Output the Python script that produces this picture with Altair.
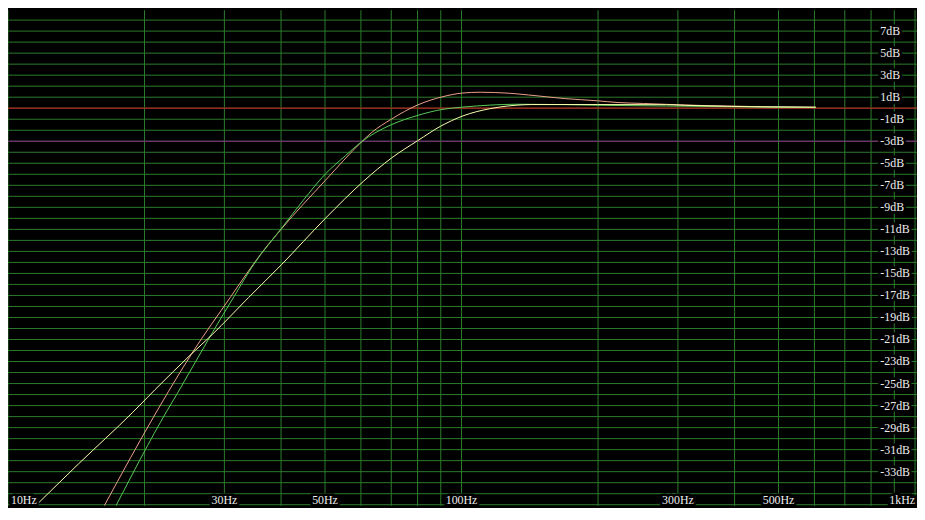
import altair as alt
import pandas as pd

W, H = 917, 500

GRID = "#2c7c2c"
RED = "#b01e1e"
PURPLE = "#8a248a"
TEXT = "#eeeeee"
FONT = "Liberation Serif"

# grid / tick data
grid_freqs = [10, 20, 30, 40, 50, 60, 70, 80, 90,
              100, 200, 300, 400, 500, 600, 700, 800, 900, 1000]
grid_db = list(range(-36, 9))
ylabel_db = list(range(7, -34, -2))
ylabel_text = [f"{d}dB" for d in ylabel_db]
xlabel_freqs = [30, 50, 100, 300, 500]
xlabel_text = ["30Hz", "50Hz", "100Hz", "300Hz", "500Hz"]
first_label_f, first_label = [10], ["10Hz"]
last_label_f, last_label = [1000], ["1kHz"]

# curves (frequency in Hz, level in dB)
pink_f = [16.3, 21.3, 22.6, 25.4, 31.0, 33.1, 36.0, 40.0, 50.1, 60.4, 63.4,
          70.0, 80.1, 91.0, 100.7, 110, 127.4, 140.6, 169.3, 199.6, 220.3, 252,
          283, 349, 443, 604]
pink_db = [-36.1, -27.5, -25.7, -22.3, -17.1, -15.4, -13.3, -11.0, -6.55, -3.0, -2.2,
           -1.0, 0.3, 1.05, 1.38, 1.45, 1.36, 1.2, 0.87, 0.67, 0.52, 0.43,
           0.35, 0.23, 0.15, 0.09]

green_f = [17.3, 22.4, 23.7, 28.2, 31.5, 34.8, 40.1, 44.7, 50.1, 55.5, 60.4,
           64.4, 70.0, 80.1, 91.0, 100.7, 115.3, 131.9, 169.3, 199.6, 283,
           421, 604]
green_db = [-36.1, -27.5, -25.8, -20.4, -17.1, -14.2, -10.9, -8.4, -5.97, -4.3, -3.0,
            -2.25, -1.5, -0.65, -0.1, 0.1, 0.28, 0.36, 0.33, 0.27, 0.2,
            0.12, 0.06]

yellow_f = [11.5, 14.3, 18.85, 21.1, 25.4, 28.2, 33.9, 40.1, 50.1, 60.8,
            70.2, 80.1, 89.8, 100.7, 115.3, 121.1, 131.9, 142.8, 199.6,
            283, 312, 386, 604]
yellow_db = [-36.1, -32.3, -27.6, -25.55, -22.3, -20.55, -17.2, -14.2, -10.0, -6.63,
             -4.5, -2.94, -1.65, -0.7, -0.05, 0.1, 0.27, 0.33, 0.33,
             0.32, 0.26, 0.17, 0.09]

xs = alt.Scale(type="log", domain=[10, 1010], nice=False)
ys = alt.Scale(domain=[-36.1, 8.9], nice=False, zero=False)


def X(field):
    return alt.X(f"{field}:Q", scale=xs, axis=None)


def Y(field):
    return alt.Y(f"{field}:Q", scale=ys, axis=None)


vgrid = alt.Chart(pd.DataFrame({"f": grid_freqs})).mark_rule(
    color=GRID, strokeWidth=1).encode(x=X("f"))
hgrid = alt.Chart(pd.DataFrame({"db": grid_db})).mark_rule(
    color=GRID, strokeWidth=1).encode(y=Y("db"))
purple = alt.Chart(pd.DataFrame({"db": [-3]})).mark_rule(
    color=PURPLE, strokeWidth=1).encode(y=Y("db"))
red = alt.Chart(pd.DataFrame({"db": [0]})).mark_rule(
    color=RED, strokeWidth=1.2).encode(y=Y("db"))


def curve(fs, dbs, color):
    return alt.Chart(pd.DataFrame({"f": fs, "db": dbs})).mark_line(
        color=color, strokeWidth=1, clip=True, interpolate="monotone"
    ).encode(x=X("f"), y=Y("db"))


pink = curve(pink_f, pink_db, "#eea28c")
green = curve(green_f, green_db, "#58cc58")
yellow = curve(yellow_f, yellow_db, "#ffffb0")


def labels(df, enc, **kw):
    halo = alt.Chart(df).mark_text(font=FONT, fontSize=12, color="black",
                                   stroke="black", strokeWidth=5, **kw).encode(**enc)
    txt = alt.Chart(df).mark_text(font=FONT, fontSize=12, color=TEXT, **kw).encode(**enc)
    return [halo, txt]


ylab_df = pd.DataFrame({"db": ylabel_db, "t": ylabel_text})
ylabs = labels(ylab_df, dict(y=Y("db"), x=alt.value(880), text="t:N"),
               align="left", baseline="middle")

xlab_df = pd.DataFrame({"f": xlabel_freqs, "t": xlabel_text})
xlabs = labels(xlab_df, dict(x=X("f"), y=alt.value(H - 6), text="t:N"),
               align="center", baseline="middle")
first_df = pd.DataFrame({"f": first_label_f, "t": first_label})
firstlab = labels(first_df, dict(x=X("f"), y=alt.value(H - 6), text="t:N"),
                  align="left", baseline="middle", dx=3)
last_df = pd.DataFrame({"f": last_label_f, "t": last_label})
lastlab = labels(last_df, dict(x=X("f"), y=alt.value(H - 6), text="t:N"),
                 align="right", baseline="middle", dx=0)

chart = alt.layer(
    vgrid, hgrid, purple, red, pink, green, yellow,
    *ylabs, *xlabs, *firstlab, *lastlab
).properties(
    width=W, height=H, background="black", padding=0,
    autosize=alt.AutoSizeParams(type="none")
).configure_view(stroke=None, fill="black")

chart.save("out.html", embed_options={"renderer": "svg", "actions": False})
